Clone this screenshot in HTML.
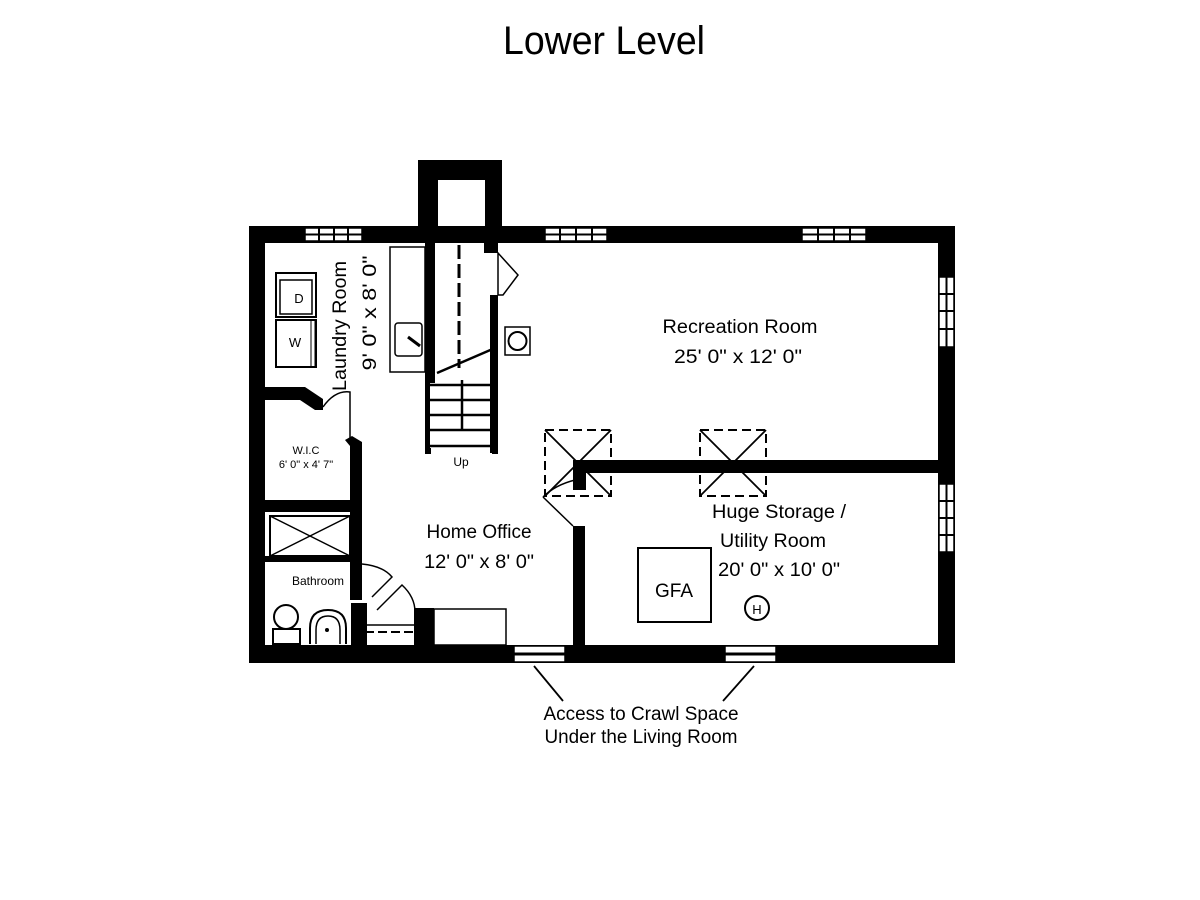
<!DOCTYPE html>
<html><head><meta charset="utf-8"><style>
html,body{margin:0;padding:0;background:#fff;}
svg{display:block;font-family:"Liberation Sans",sans-serif;}
</style></head><body>
<svg width="1200" height="900" viewBox="0 0 1200 900" xmlns="http://www.w3.org/2000/svg">
<rect width="1200" height="900" fill="#fff"/>
<text x="604" y="54" font-size="40" text-anchor="middle" textLength="202" lengthAdjust="spacingAndGlyphs">Lower Level</text>

<!-- chimney -->
<path d="M418,160H502V230H485V180H438V230H418Z" fill="#000"/>
<!-- outer walls -->
<path fill="#000" fill-rule="evenodd" d="M249,226H955V663H249Z M265,243H938V645H265Z"/>
<!-- top windows -->
<g fill="#fff" stroke="#000" stroke-width="1.5">
<rect x="305" y="228" width="57" height="13"/><rect x="545" y="228" width="62" height="13"/><rect x="802" y="228" width="64" height="13"/>
</g>
<g stroke="#000" stroke-width="2">
<line x1="305" y1="234.5" x2="362" y2="234.5"/><line x1="319" y1="228" x2="319" y2="241"/><line x1="334" y1="228" x2="334" y2="241"/><line x1="348" y1="228" x2="348" y2="241"/>
<line x1="545" y1="234.5" x2="607" y2="234.5"/><line x1="560" y1="228" x2="560" y2="241"/><line x1="576" y1="228" x2="576" y2="241"/><line x1="592" y1="228" x2="592" y2="241"/>
<line x1="802" y1="234.5" x2="866" y2="234.5"/><line x1="818" y1="228" x2="818" y2="241"/><line x1="834" y1="228" x2="834" y2="241"/><line x1="850" y1="228" x2="850" y2="241"/>
</g>
<!-- right windows -->
<g fill="#fff" stroke="#000" stroke-width="1.5">
<rect x="939" y="277" width="15" height="70"/><rect x="939" y="484" width="15" height="68"/>
</g>
<g stroke="#000" stroke-width="2">
<line x1="946.5" y1="277" x2="946.5" y2="347"/><line x1="939" y1="294" x2="954" y2="294"/><line x1="939" y1="311" x2="954" y2="311"/><line x1="939" y1="329" x2="954" y2="329"/>
<line x1="946.5" y1="484" x2="946.5" y2="552"/><line x1="939" y1="501" x2="954" y2="501"/><line x1="939" y1="518" x2="954" y2="518"/><line x1="939" y1="535" x2="954" y2="535"/>
</g>
<!-- bottom windows -->
<g fill="#fff" stroke="#000" stroke-width="1.5">
<rect x="514" y="646" width="51" height="16"/><rect x="725" y="646" width="51" height="16"/>
</g>
<line x1="514" y1="654" x2="565" y2="654" stroke="#000" stroke-width="3"/>
<line x1="725" y1="654" x2="776" y2="654" stroke="#000" stroke-width="3"/>

<!-- stair walls -->
<rect x="425" y="243" width="10" height="140" fill="#000"/>
<rect x="425" y="383" width="5" height="70" fill="#000"/>
<rect x="490" y="295" width="8" height="158" fill="#000"/>
<rect x="484" y="243" width="14" height="10" fill="#000"/>
<path d="M498,253 L518,275 L503,295 L498,295Z" fill="none" stroke="#000" stroke-width="1.5"/>
<g stroke="#000" stroke-width="2.5">
<line x1="430" y1="385" x2="495" y2="385"/><line x1="430" y1="400" x2="495" y2="400"/><line x1="430" y1="415" x2="495" y2="415"/><line x1="430" y1="430" x2="495" y2="430"/><line x1="430" y1="446" x2="495" y2="446"/>
<line x1="462" y1="380" x2="462" y2="430"/>
<line x1="437" y1="373" x2="495" y2="348"/>
</g>
<line x1="459" y1="245" x2="459" y2="368" stroke="#000" stroke-width="3" stroke-dasharray="14,5"/>
<rect x="425" y="448" width="6" height="6" fill="#000"/><rect x="492" y="448" width="6" height="6" fill="#000"/>
<text x="461" y="466" font-size="12" text-anchor="middle">Up</text>
<!-- counter with sink -->
<rect x="390" y="247" width="35" height="125" fill="none" stroke="#000" stroke-width="1.5"/>
<rect x="395" y="323" width="27" height="33" rx="3" fill="none" stroke="#000" stroke-width="1.5"/>
<line x1="408" y1="337" x2="420" y2="346" stroke="#000" stroke-width="3"/>
<!-- water heater small -->
<rect x="505" y="327" width="25" height="28" fill="none" stroke="#000" stroke-width="1.5"/>
<circle cx="517.5" cy="341" r="9" fill="none" stroke="#000" stroke-width="2"/>

<!-- dryer / washer -->
<rect x="276" y="273" width="40" height="44" fill="none" stroke="#000" stroke-width="2"/>
<rect x="280" y="280" width="32" height="34" fill="none" stroke="#000" stroke-width="1.5"/>
<rect x="276" y="320" width="40" height="47" fill="none" stroke="#000" stroke-width="2"/>
<rect x="311" y="320" width="4" height="47" fill="none" stroke="#000" stroke-width="1"/>
<text x="299" y="303" font-size="13" text-anchor="middle">D</text>
<text x="295" y="347" font-size="13" text-anchor="middle">W</text>
<text transform="translate(346,326) rotate(-90)" font-size="19" text-anchor="middle" textLength="130" lengthAdjust="spacingAndGlyphs">Laundry Room</text>
<text transform="translate(376,313) rotate(-90)" font-size="19" text-anchor="middle" textLength="115" lengthAdjust="spacingAndGlyphs">9' 0" x 8' 0"</text>

<!-- laundry bottom wall / WIC -->
<path d="M265,387H305L323,399V410H315L300,400H265Z" fill="#000"/>
<path d="M323,407 Q335,390 350,392 L350,440" fill="none" stroke="#000" stroke-width="1.5"/>
<path d="M345,440L352,436L362,442V600H350V446Z" fill="#000"/>
<text x="306" y="454" font-size="11" text-anchor="middle">W.I.C</text>
<text x="306" y="468" font-size="11" text-anchor="middle">6' 0" x 4' 7"</text>
<!-- WIC/bath wall -->
<rect x="265" y="500" width="92" height="12" fill="#000"/>
<rect x="270" y="516" width="80" height="40" fill="none" stroke="#000" stroke-width="2"/>
<line x1="270" y1="516" x2="350" y2="556" stroke="#000" stroke-width="1.5"/><line x1="350" y1="516" x2="270" y2="556" stroke="#000" stroke-width="1.5"/>
<rect x="265" y="556" width="97" height="6" fill="#000"/>
<text x="318" y="585" font-size="12" text-anchor="middle">Bathroom</text>
<path d="M362,564 Q383,566 392,577 L372,597" fill="none" stroke="#000" stroke-width="1.5"/>
<path d="M377,610 L402,585 Q415,597 415,612" fill="none" stroke="#000" stroke-width="1.5"/>
<rect x="351" y="603" width="16" height="42" fill="#000"/>
<rect x="414" y="608" width="20" height="37" fill="#000"/>
<line x1="365" y1="632" x2="420" y2="632" stroke="#000" stroke-width="2" stroke-dasharray="9,4"/>
<line x1="365" y1="625" x2="420" y2="625" stroke="#000" stroke-width="1.5"/>
<rect x="434" y="609" width="72" height="36" fill="none" stroke="#000" stroke-width="1.5"/>
<!-- toilet, sink -->
<circle cx="286" cy="617" r="12" fill="none" stroke="#000" stroke-width="2"/>
<rect x="273" y="629" width="27" height="15" fill="none" stroke="#000" stroke-width="2"/>
<path d="M310,644 V628 Q310,610 328,610 Q346,610 346,628 V644" fill="none" stroke="#000" stroke-width="2"/>
<path d="M316,644 V630 Q316,616 328,616 Q340,616 340,630 V644" fill="none" stroke="#000" stroke-width="1.5"/>
<circle cx="327" cy="630" r="2" fill="#000"/>

<!-- rec/storage wall -->
<rect x="573" y="460" width="365" height="13" fill="#000"/>
<rect x="573" y="460" width="13" height="30" fill="#000"/>
<rect x="573" y="526" width="12" height="120" fill="#000"/>
<path d="M543,497 L573,526 M543,497 Q555,485 575,480" fill="none" stroke="#000" stroke-width="1.5"/>
<g fill="none" stroke="#000" stroke-width="2" stroke-dasharray="9,5">
<rect x="545" y="430" width="66" height="66"/><rect x="700" y="430" width="66" height="66"/>
</g>
<g stroke="#000" stroke-width="1.8">
<line x1="545" y1="430" x2="611" y2="496"/><line x1="611" y1="430" x2="545" y2="496"/>
<line x1="700" y1="430" x2="766" y2="496"/><line x1="766" y1="430" x2="700" y2="496"/>
</g>
<rect x="638" y="548" width="73" height="74" fill="none" stroke="#000" stroke-width="2"/>
<text x="674" y="597" font-size="19" text-anchor="middle">GFA</text>
<circle cx="757" cy="608" r="12" fill="none" stroke="#000" stroke-width="2"/>
<text x="757" y="614" font-size="13" text-anchor="middle">H</text>

<!-- labels -->
<text x="740" y="333" font-size="19" text-anchor="middle" textLength="155" lengthAdjust="spacingAndGlyphs">Recreation Room</text>
<text x="738" y="363" font-size="19" text-anchor="middle" textLength="128" lengthAdjust="spacingAndGlyphs">25' 0" x 12' 0"</text>
<text x="479" y="538" font-size="19" text-anchor="middle" textLength="105" lengthAdjust="spacingAndGlyphs">Home Office</text>
<text x="479" y="568" font-size="19" text-anchor="middle" textLength="110" lengthAdjust="spacingAndGlyphs">12' 0" x 8' 0"</text>
<text x="779" y="518" font-size="19" text-anchor="middle" textLength="134" lengthAdjust="spacingAndGlyphs">Huge Storage /</text>
<text x="773" y="547" font-size="19" text-anchor="middle" textLength="106" lengthAdjust="spacingAndGlyphs">Utility Room</text>
<text x="779" y="576" font-size="19" text-anchor="middle" textLength="122" lengthAdjust="spacingAndGlyphs">20' 0" x 10' 0"</text>

<line x1="534" y1="666" x2="563" y2="701" stroke="#000" stroke-width="1.8"/>
<line x1="754" y1="666" x2="723" y2="701" stroke="#000" stroke-width="1.8"/>
<text x="641" y="720" font-size="19" text-anchor="middle" textLength="195" lengthAdjust="spacingAndGlyphs">Access to Crawl Space</text>
<text x="641" y="743" font-size="19" text-anchor="middle" textLength="193" lengthAdjust="spacingAndGlyphs">Under the Living Room</text>
</svg>
</body></html>
